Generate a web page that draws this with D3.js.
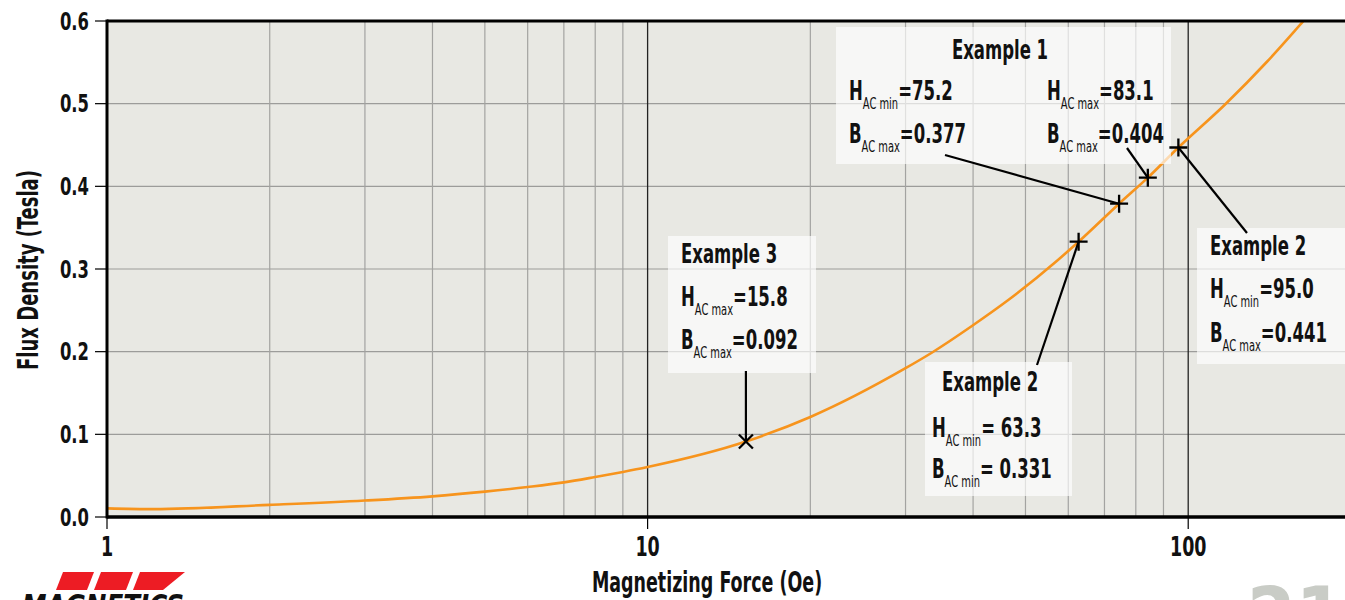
<!DOCTYPE html>
<html><head><meta charset="utf-8">
<script src="https://cdn.jsdelivr.net/npm/d3@7"></script>
<style>
html,body{margin:0;padding:0;background:#fff;overflow:hidden}
svg{display:block}
text{font-family:"DejaVu Sans Condensed","DejaVu Sans",sans-serif;fill:#111;font-weight:bold}
</style></head>
<body>
<svg id="chart" width="1345" height="600"></svg>
<script>
// ---------- data ----------
const curveH = [1, 1.22, 2, 3, 4, 5, 6, 7, 8, 9, 10, 15.2, 20, 30, 33.6, 39.8, 46.6, 57.2, 62.7, 74.5, 84.2, 95.9, 117, 140, 163.4, 175];
const curveB = [0.0104, 0.0095, 0.0147, 0.0199, 0.025, 0.0307, 0.0363, 0.0419, 0.0484, 0.0545, 0.0605, 0.0913, 0.121, 0.180, 0.199, 0.231, 0.263, 0.310, 0.333, 0.379, 0.4105, 0.447, 0.499, 0.551, 0.6, 0.622];
const markerH = [15.2, 62.7, 74.5, 84.2, 95.9];
const markerB = [0.0913, 0.333, 0.379, 0.4105, 0.447];
const markerShape = ["x", "+", "+", "+", "+"];
const yTicks = [0, 0.1, 0.2, 0.3, 0.4, 0.5, 0.6];
const yTickLabels = ["0.0", "0.1", "0.2", "0.3", "0.4", "0.5", "0.6"];
const xTicks = [1, 10, 100];
const xTickLabels = ["1", "10", "100"];
const xMinorGrid = [2, 3, 4, 5, 6, 7, 8, 9, 20, 30, 40, 50, 60, 70, 80, 90];
const xTitle = "Magnetizing Force (Oe)";
const yTitle = "Flux Density (Tesla)";
const exampleTitles = ["Example 1", "Example 2", "Example 2", "Example 3"];
const ex1RowsA = [["H", "AC min", "=75.2"], ["B", "AC max", "=0.377"]];
const ex1RowsB = [["H", "AC max", "=83.1"], ["B", "AC max", "=0.404"]];
const ex2RowsTop = [["H", "AC min", "=95.0"], ["B", "AC max", "=0.441"]];
const ex2RowsBottom = [["H", "AC min", "= 63.3"], ["B", "AC min", "= 0.331"]];
const ex3Rows = [["H", "AC max", "=15.8"], ["B", "AC max", "=0.092"]];

// ---------- layout ----------
const L = 107, R = 1345, T = 21, B = 517;
const SX = 0.68; // horizontal compression to mimic a condensed face
const svg = d3.select("#chart");
const x = d3.scaleLog().domain([1, 195]).range([L, R]);
const y = d3.scaleLinear().domain([0, 0.6]).range([B, T]);

function label(g, px, py, parts, size, anchor, sx) {
  const gg = g.append("g").attr("transform", `translate(${px},${py}) scale(${sx || SX},1)`);
  const t = gg.append("text").attr("x", 0).attr("y", 0).attr("font-size", size)
    .attr("text-anchor", anchor || "start");
  if (typeof parts === "string") { t.text(parts); return t; }
  t.append("tspan").text(parts[0]);
  t.append("tspan").attr("dy", 9).attr("font-size", size * 0.6).attr("font-weight", "normal").text(parts[1]);
  t.append("tspan").attr("dy", -9).text(parts[2]);
  return t;
}

// plot background
svg.append("rect").attr("x", L).attr("y", T).attr("width", R - L + 5).attr("height", B - T).attr("fill", "#e8e8e3");

// grid
const grid = svg.append("g");
grid.selectAll(".hg").data(yTicks.filter(d => d > 0 && d < 0.6)).join("line")
  .attr("x1", L).attr("x2", R).attr("y1", d => y(d)).attr("y2", d => y(d))
  .attr("stroke", "#9c9c9a").attr("stroke-width", 1.2);
grid.selectAll(".vg").data(xMinorGrid).join("line")
  .attr("x1", d => x(d)).attr("x2", d => x(d)).attr("y1", T).attr("y2", B)
  .attr("stroke", "#a3a3a1").attr("stroke-width", 1.2);
grid.selectAll(".vm").data(xTicks.filter(d => d > 1)).join("line")
  .attr("x1", d => x(d)).attr("x2", d => x(d)).attr("y1", T).attr("y2", B)
  .attr("stroke", "#222").attr("stroke-width", 1.3);

// curve
svg.append("clipPath").attr("id", "pc").append("rect").attr("x", L).attr("y", T).attr("width", R - L).attr("height", B - T);
const pts = curveH.map((h, i) => [x(h), y(curveB[i])]);
svg.append("path").attr("clip-path", "url(#pc)")
  .attr("d", d3.line().curve(d3.curveMonotoneX)(pts))
  .attr("fill", "none").attr("stroke", "#f7941d").attr("stroke-width", 2.6);

// annotation boxes
const boxes = svg.append("g");
const boxSpecs = [[836, 27, 335, 137], [1197, 228, 160, 136], [925, 362, 147, 134], [668, 236, 148, 137]];
boxes.selectAll("rect").data(boxSpecs).join("rect")
  .attr("x", d => d[0]).attr("y", d => d[1]).attr("width", d => d[2]).attr("height", d => d[3])
  .attr("fill", "#fff").attr("fill-opacity", 0.66);

// axes frame
svg.append("line").attr("x1", L).attr("x2", R).attr("y1", T).attr("y2", T).attr("stroke", "#000").attr("stroke-width", 3);
svg.append("line").attr("x1", L).attr("x2", R).attr("y1", B).attr("y2", B).attr("stroke", "#000").attr("stroke-width", 3.5);
svg.append("line").attr("x1", L).attr("x2", L).attr("y1", T - 1.5).attr("y2", B + 1.5).attr("stroke", "#000").attr("stroke-width", 3);

// y axis ticks + labels
const yAxis = svg.append("g");
yAxis.selectAll("line").data(yTicks).join("line")
  .attr("x1", L - 12).attr("x2", L).attr("y1", d => y(d)).attr("y2", d => y(d))
  .attr("stroke", "#000").attr("stroke-width", 1.2);
yTicks.forEach((d, i) => label(yAxis, 89, y(d) + 8.5, yTickLabels[i], 24, "end", 0.76));

// x axis ticks + labels
const xAxis = svg.append("g");
xAxis.selectAll("line").data(xTicks).join("line")
  .attr("x1", d => x(d)).attr("x2", d => x(d)).attr("y1", B).attr("y2", B + 12)
  .attr("stroke", "#000").attr("stroke-width", 1.2);
xTicks.forEach((d, i) => label(xAxis, x(d), 556, xTickLabels[i], 27, "middle", 0.72));

// axis titles
label(svg, 707, 592, xTitle, 29, "middle", 0.67);
const yt = svg.append("g").attr("transform", "translate(38,270) rotate(-90)");
label(yt, 0, 0, yTitle, 29, "middle", 0.69);

// annotation texts
const ann = svg.append("g");
label(ann, 1000, 59, exampleTitles[0], 27, "middle");
ex1RowsA.forEach((r, i) => label(ann, 849, 100 + i * 43, r, 27));
ex1RowsB.forEach((r, i) => label(ann, 1047, 100 + i * 43, r, 27));
label(ann, 1210, 255, exampleTitles[1], 27);
ex2RowsTop.forEach((r, i) => label(ann, 1210, 298 + i * 44, r, 27));
label(ann, 942, 391, exampleTitles[2], 27);
ex2RowsBottom.forEach((r, i) => label(ann, 932, 437 + i * 41, r, 27));
label(ann, 681, 263, exampleTitles[3], 27);
ex3Rows.forEach((r, i) => label(ann, 681, 306 + i * 43, r, 27));

// leader lines (label anchor -> marker)
const leaderStarts = [[null, 371], [1037, 365], [945, 155], [1127, 148], [1247, 233]];
const leaders = svg.append("g");
markerH.forEach((h, i) => {
  const s = leaderStarts[i];
  leaders.append("line")
    .attr("x1", s[0] === null ? x(h) : s[0]).attr("y1", s[1])
    .attr("x2", x(h)).attr("y2", y(markerB[i]))
    .attr("stroke", "#000").attr("stroke-width", 2.2);
});

// markers
const mk = svg.append("g");
markerH.forEach((h, i) => {
  const cx = x(h), cy = y(markerB[i]);
  const s = markerShape[i] === "x" ? 7 : 9;
  const path = markerShape[i] === "x"
    ? `M${cx - s},${cy - s}L${cx + s},${cy + s}M${cx - s},${cy + s}L${cx + s},${cy - s}`
    : `M${cx - s},${cy}L${cx + s},${cy}M${cx},${cy - s}L${cx},${cy + s}`;
  mk.append("path").attr("d", path).attr("stroke", "#000").attr("stroke-width", 2.3).attr("fill", "none");
});

// logo (partially cut off at the bottom, as in the reference)
const logo = svg.append("g");
const pieces = [[63, 94], [101, 133], [140, 185]];
pieces.forEach((p, i) => {
  const bl = p[0] - 7, br = i === 2 ? 163 : p[1] - 7;
  logo.append("path").attr("d", `M${p[0]},572L${p[1]},572L${br},590L${bl},590Z`).attr("fill", "#ed1c24");
});
logo.append("text").attr("x", 22).attr("y", 616).attr("font-size", 31).attr("font-weight", "bold")
  .attr("font-style", "italic").attr("font-family", "Liberation Sans, Arial, sans-serif").attr("textLength", 162)
  .attr("lengthAdjust", "spacingAndGlyphs").text("MAGNETICS");

// big page number, mostly off-canvas
svg.append("text").attr("x", 1247).attr("y", 643).attr("font-size", 78).attr("font-weight", "bold")
  .attr("font-family", "Liberation Sans, Arial, sans-serif").style("fill", "#c9ccc6").text("21");
</script>
</body></html>
